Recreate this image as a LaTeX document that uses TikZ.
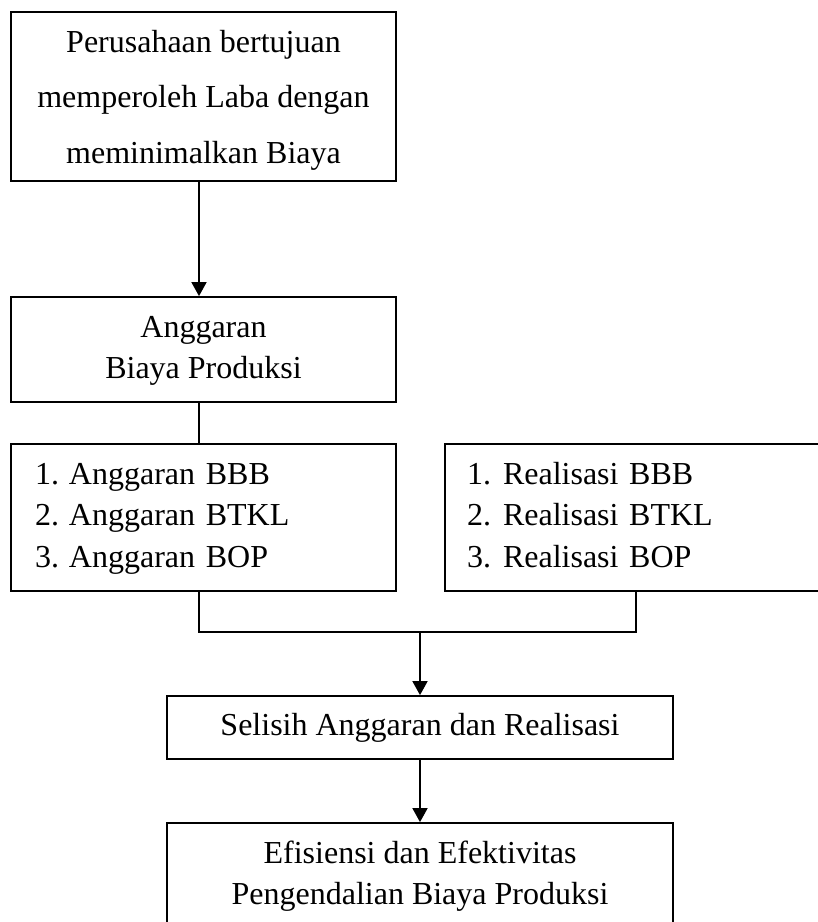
\documentclass[tikz,border=0pt]{standalone}
\usepackage{fontspec}
\setmainfont{Liberation Serif}
\usetikzlibrary{arrows.meta,calc}
\begin{document}
\begin{tikzpicture}[x=1pt,y=-1pt,
  box/.style={draw=black, line width=1.8pt, inner sep=0pt, font=\fontsize{32}{41}\selectfont},
  listbox/.style={box, align=left},
  arr/.style={line width=1.8pt, -{Triangle[width=15pt,length=14pt]}},
  conn/.style={line width=1.8pt}]
\useasboundingbox (0,0) rectangle (818,922);
\clip (0,0) rectangle (818,922);
\fill[white] (0,0) rectangle (818,922);

\node[box, minimum width=385pt, minimum height=169pt, align=center,
      font=\fontsize{32}{55.5}\selectfont] (b1) at (203.5,96.5)
  {\strut Perusahaan bertujuan\\\strut memperoleh Laba dengan\\\strut meminimalkan Biaya};

\node[box, minimum width=385pt, minimum height=105pt, align=center] (b2) at (203.5,349.5)
  {\strut Anggaran\\\strut Biaya Produksi};

\node[listbox, minimum width=385pt, minimum height=147pt, text width=337pt,
      font=\fontsize{32}{41.5}\selectfont] (b3) at (203.5,517.5)
  {\strut\makebox[34pt][l]{1.}Anggaran BBB\\\strut\makebox[34pt][l]{2.}Anggaran BTKL\\\strut\makebox[34pt][l]{3.}Anggaran BOP};

\node[listbox, minimum width=400pt, minimum height=147pt, text width=356pt,
      font=\fontsize{32}{41.5}\selectfont] (b4) at (645,517.5)
  {\strut\makebox[36pt][l]{1.}Realisasi BBB\\\strut\makebox[36pt][l]{2.}Realisasi BTKL\\\strut\makebox[36pt][l]{3.}Realisasi BOP};

\node[box, minimum width=506pt, minimum height=63pt] (sel) at (420,727.5)
  {\strut Selisih Anggaran dan Realisasi};

\node[box, minimum width=506pt, minimum height=106pt, align=center] (eff) at (420,876)
  {\strut Efisiensi dan Efektivitas\\\strut Pengendalian Biaya Produksi};

\coordinate (jl) at (199,632);
\coordinate (jr) at (636,632);
\coordinate (jm) at (420,632);

\draw[arr] (b1.south -| jl) -- (b2.north -| jl);
\draw[conn] (b2.south -| jl) -- (b3.north -| jl);
\draw[conn] (b3.south -| jl) -- (jl) -- (jr) -- (b4.south -| jr);
\draw[arr] (jm) -- (sel.north);
\draw[arr] (sel.south) -- (eff.north);
\end{tikzpicture}
\end{document}
